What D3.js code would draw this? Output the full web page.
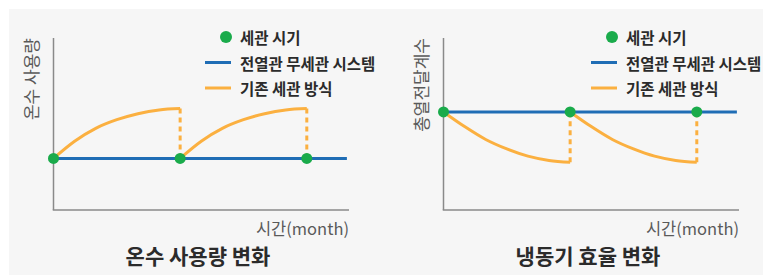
<!DOCTYPE html>
<html><head><meta charset="utf-8">
<script src="https://cdn.jsdelivr.net/npm/d3@7"></script>
<style>
html,body{margin:0;padding:0;background:#fff;}
svg{display:block;font-family:"Noto Sans CJK KR","Noto Sans",sans-serif;}
</style></head>
<body><svg id="c" width="773" height="275"></svg>
<script>
// ---- data ----
const months = [0, 1, 2, 3, 4, 5, 6];
const cleaningMonths = [0, 6, 12];
const xDomain = [0, 14];
const yDomain = [0, 100];
// 온수 사용량 (hot water usage)
const usageNew = 30;                                   // 전열관 무세관 시스템
const usageOld = [30, 40, 47.5, 52.5, 56, 58.2, 59];   // 기존 세관 방식 (one cycle)
// 총열전달계수 (heat transfer coefficient)
const coefNew = 57;
const coefOld = [57, 48.5, 41, 35.5, 31.3, 28.8, 27.7];
const legendLabels = ["세관 시기", "전열관 무세관 시스템", "기존 세관 방식"];
const charts = [
  {title: "온수 사용량 변화", yLabel: "온수 사용량", xLabel: "시간(month)", flat: usageNew, cycle: usageOld, ox: 0},
  {title: "냉동기 효율 변화", yLabel: "총열전달계수", xLabel: "시간(month)", flat: coefNew, cycle: coefOld, ox: 390}
];

const colors = {green: "#1aab4b", blue: "#1f6db5", orange: "#fbb040", axis: "#8a8a8a", text: "#2b2b2b", light: "#5a5a5a"};

const svg = d3.select("#c");
svg.append("rect").attr("x", 9).attr("y", 9).attr("width", 754).attr("height", 266).attr("fill", "#f6f6f6");

charts.forEach(ch => {
  const g = svg.append("g").attr("transform", `translate(${ch.ox},0)`);
  const x = d3.scaleLinear().domain(xDomain).range([53.5, 349]);
  const y = d3.scaleLinear().domain(yDomain).range([210, 38]);

  // axes
  g.append("line").attr("x1", x(0)).attr("x2", x(0)).attr("y1", y(100)).attr("y2", y(0))
    .attr("stroke", colors.axis).attr("stroke-width", 1.5);
  g.append("line").attr("x1", x(0) - 0.75).attr("x2", x(14)).attr("y1", y(0)).attr("y2", y(0))
    .attr("stroke", colors.axis).attr("stroke-width", 1.5);

  // blue flat line
  g.append("line").attr("x1", x(0)).attr("x2", x(13.9)).attr("y1", y(ch.flat)).attr("y2", y(ch.flat))
    .attr("stroke", colors.blue).attr("stroke-width", 3);

  // orange cycles
  const line = d3.line().x(d => x(d[0])).y(d => y(d[1])).curve(d3.curveMonotoneX);
  [0, 6].forEach(start => {
    const pts = months.map((m, i) => [start + m, ch.cycle[i]]);
    g.append("path").attr("d", line(pts)).attr("fill", "none")
      .attr("stroke", colors.orange).attr("stroke-width", 3).attr("stroke-linecap", "butt");
    const end = start + 6;
    g.append("line").attr("x1", x(end)).attr("x2", x(end))
      .attr("y1", y(ch.cycle[ch.cycle.length - 1])).attr("y2", y(ch.flat))
      .attr("stroke", colors.orange).attr("stroke-width", 3).attr("stroke-dasharray", "5,4");
  });

  // dots
  g.selectAll("circle.dot").data(cleaningMonths).join("circle")
    .attr("cx", d => x(d)).attr("cy", y(ch.flat)).attr("r", 5.5).attr("fill", colors.green);

  // y label
  g.append("text").attr("transform", `translate(${x(0) - 23},${y(100)}) rotate(-90)`)
    .attr("text-anchor", "end").attr("dominant-baseline", "central")
    .attr("font-size", 17).attr("fill", colors.light).text(ch.yLabel);

  // x label
  g.append("text").attr("x", x(14)).attr("y", 235).attr("text-anchor", "end")
    .attr("font-size", 16.5).attr("fill", colors.light).text(ch.xLabel);

  // title
  g.append("text").attr("x", 198).attr("y", 263.5).attr("text-anchor", "middle")
    .attr("font-size", 21).attr("font-weight", 700).attr("fill", colors.text).text(ch.title);

  // legend
  const lx = ch.ox === 0 ? 205 : 201, ly = [37, 62.5, 88];
  g.append("circle").attr("cx", lx + 21).attr("cy", ly[0]).attr("r", 6).attr("fill", colors.green);
  g.append("line").attr("x1", lx).attr("x2", lx + 26).attr("y1", ly[1]).attr("y2", ly[1])
    .attr("stroke", colors.blue).attr("stroke-width", 3);
  g.append("line").attr("x1", lx).attr("x2", lx + 26).attr("y1", ly[2]).attr("y2", ly[2])
    .attr("stroke", colors.orange).attr("stroke-width", 3);
  legendLabels.forEach((t, i) => {
    g.append("text").attr("x", lx + 35).attr("y", ly[i]).attr("dominant-baseline", "central")
      .attr("font-size", 15.5).attr("font-weight", 700).attr("fill", colors.text).text(t);
  });
});
</script></body></html>
